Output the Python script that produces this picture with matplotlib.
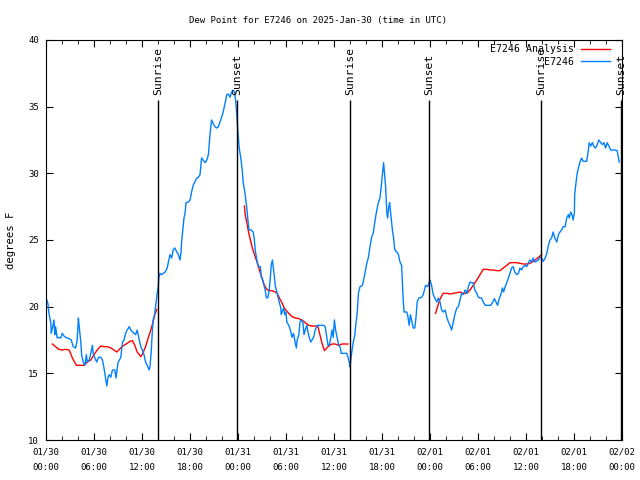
import numpy as np
import matplotlib
matplotlib.use("Agg")
import matplotlib.pyplot as plt
import matplotlib.dates as mdates
from matplotlib.ticker import MultipleLocator

plt.rcParams['font.family'] = ['DejaVu Sans Mono']

# ---- data (hours since 2025-01-30 00:00 UTC, dew point in deg F) ----
obs_hours = [0.125, 0.25, 0.375, 0.6, 0.65, 0.8, 1.0, 1.1, 1.2, 1.4, 1.6, 1.85, 2.05, 2.25, 2.45, 2.9, 3.15, 3.4, 3.7, 3.9,
             4.05, 4.15, 4.35, 4.45, 4.65, 4.85, 5.05, 5.15, 5.4, 5.6, 5.8, 5.9, 6.1, 6.35, 6.55, 6.85, 7.05, 7.25, 7.45, 7.6,
             7.75, 7.9, 8.1, 8.3, 8.6, 8.75, 9.0, 9.35, 9.55, 9.75, 9.95, 10.15, 10.4, 10.6, 10.8, 11.0, 11.2, 11.4, 11.6, 11.85,
             12.05, 12.25, 12.45, 12.65, 12.9, 13.0, 13.15, 13.3, 13.4, 13.6, 13.75, 13.9, 14.05, 14.1, 14.25, 14.45, 14.65, 14.9, 15.15, 15.3,
             15.5, 15.7, 15.9, 16.1, 16.35, 16.55, 16.75, 16.9, 16.95, 17.1, 17.25, 17.4, 17.5, 17.8, 18.0, 18.2, 18.4, 18.6, 18.85, 19.05,
             19.25, 19.45, 19.65, 19.9, 20.1, 20.3, 20.5, 20.7, 20.9, 21.1, 21.35, 21.55, 21.75, 21.95, 22.15, 22.4, 22.6, 22.8, 23.0, 23.2,
             23.4, 23.55, 23.7, 23.85, 23.95, 24.05, 24.15, 24.35, 24.5, 24.65, 24.9, 25.1, 25.3, 25.4, 25.65, 25.9, 26.05, 26.15, 26.4, 26.6,
             26.8, 26.9, 27.1, 27.25, 27.4, 27.55, 27.75, 27.9, 28.05, 28.15, 28.3, 28.4, 28.55, 28.65, 28.85, 29.0, 29.15, 29.35, 29.4, 29.6,
             29.7, 29.85, 30.0, 30.1, 30.35, 30.55, 30.75, 30.95, 31.15, 31.3, 31.4, 31.6, 31.75, 31.9, 32.1, 32.25, 32.4, 32.6, 32.75, 32.9,
             33.1, 33.25, 33.45, 33.65, 33.9, 34.3, 34.7, 34.9, 35.1, 35.25, 35.4, 35.6, 35.75, 35.9, 36.05, 36.2, 36.4, 36.6, 36.8, 36.9,
             37.2, 37.6, 37.85, 37.9, 38.0, 38.2, 38.4, 38.6, 38.75, 38.9, 39.05, 39.25, 39.55, 39.65, 39.9, 40.1, 40.3, 40.5, 40.7, 40.9,
             41.1, 41.35, 41.55, 41.75, 41.95, 42.1, 42.2, 42.35, 42.45, 42.6, 42.7, 42.85, 42.95, 43.1, 43.3, 43.45, 43.6, 43.85, 44.05, 44.25,
             44.45, 44.65, 44.75, 45.1, 45.2, 45.4, 45.55, 45.7, 45.9, 46.1, 46.25, 46.4, 46.6, 46.95, 47.15, 47.3, 47.45, 47.7, 47.9, 48.0,
             48.2, 48.4, 48.6, 48.85, 49.05, 49.25, 49.45, 49.65, 49.9, 50.1, 50.3, 50.5, 50.7, 50.9, 51.1, 51.35, 51.55, 51.75, 51.95, 52.15,
             52.4, 52.6, 52.8, 53.0, 53.2, 53.4, 53.6, 53.85, 54.05, 54.25, 54.45, 54.65, 54.9, 55.3, 55.6, 55.85, 56.05, 56.25, 56.45, 56.6,
             56.9, 57.05, 57.2, 57.4, 57.6, 57.8, 58.0, 58.2, 58.4, 58.6, 58.85, 59.05, 59.25, 59.45, 59.65, 59.9, 60.1, 60.3, 60.5, 60.7,
             60.9, 61.1, 61.55, 61.75, 61.95, 62.15, 62.4, 62.6, 62.8, 63.0, 63.2, 63.4, 63.6, 63.85, 64.05, 64.25, 64.45, 64.65, 64.9, 65.1,
             65.3, 65.4, 65.6, 65.75, 65.9, 66.05, 66.1, 66.25, 66.4, 66.55, 66.75, 66.95, 67.15, 67.6, 67.8, 67.9, 68.1, 68.3, 68.5, 68.7,
             68.9, 69.1, 69.35, 69.55, 69.75, 69.95, 70.15, 70.4, 70.6, 71.1, 71.4, 71.55, 71.65]
obs_dewpt = [20.5, 20.2, 19.5, 18.8, 18.0, 18.4, 19.0, 17.9, 18.5, 17.65, 17.7, 17.65, 18.0, 17.8, 17.7, 17.6, 17.5, 17.0, 16.9, 17.5,
             19.15, 18.5, 17.35, 16.4, 15.85, 15.6, 16.4, 15.85, 16.0, 16.5, 17.1, 16.5, 16.15, 15.85, 16.2, 16.2, 16.0, 15.4, 14.65, 14.05,
             14.7, 14.9, 14.7, 15.25, 15.25, 14.65, 15.8, 16.2, 17.3, 17.5, 18.0, 18.25, 18.5, 18.25, 18.1, 18.0, 17.9, 18.25, 17.65, 17.0,
             16.75, 16.4, 15.85, 15.6, 15.25, 15.5, 16.6, 18.25, 19.0, 19.5, 20.3, 21.0, 21.6, 22.2, 22.5, 22.4, 22.5, 22.6, 22.9, 23.35,
             23.9, 23.65, 24.25, 24.4, 24.1, 23.9, 23.5, 24.1, 24.85, 25.75, 26.65, 27.1, 27.8, 27.85, 28.0, 28.6, 29.1, 29.35, 29.65, 29.7,
             29.9, 31.15, 31.0, 30.8, 31.0, 31.4, 32.9, 34.0, 33.75, 33.5, 33.4, 33.5, 33.85, 34.2, 34.6, 35.3, 35.9, 35.95, 35.7, 36.1,
             36.25, 36.1, 35.5, 34.4, 33.4, 32.65, 31.9, 31.15, 30.4, 29.35, 28.4, 27.4, 26.1, 25.75, 25.75, 25.6, 25.0, 24.25, 23.35, 23.0,
             23.0, 22.25, 22.0, 21.6, 21.25, 20.65, 20.7, 21.25, 22.25, 23.1, 23.5, 23.0, 22.25, 21.6, 21.1, 20.7, 20.35, 19.9, 19.4, 19.75,
             19.9, 19.4, 19.6, 18.85, 18.6, 18.25, 17.7, 18.0, 17.3, 16.9, 17.5, 17.9, 18.85, 19.0, 18.85, 17.9, 18.25, 18.6, 18.1, 17.7,
             17.35, 17.5, 17.7, 18.25, 18.6, 18.6, 18.6, 18.5, 17.7, 17.1, 17.1, 17.65, 18.25, 17.7, 19.0, 18.25, 17.65, 17.1, 16.9, 16.5,
             16.5, 16.5, 16.0, 15.85, 15.5, 16.5, 17.3, 17.9, 18.8, 19.5, 21.0, 21.5, 21.6, 21.85, 22.6, 23.25, 23.7, 24.5, 25.2, 25.5,
             26.35, 27.25, 27.8, 28.15, 29.3, 30.25, 30.8, 29.7, 29.0, 27.1, 26.65, 27.5, 27.8, 26.9, 25.75, 25.15, 24.25, 24.1, 23.9, 23.35,
             23.1, 20.5, 19.6, 19.6, 19.4, 18.6, 19.4, 19.0, 18.4, 18.4, 19.2, 20.35, 20.65, 20.7, 20.9, 21.25, 21.6, 21.5, 21.85, 22.0,
             21.6, 20.9, 20.65, 20.35, 20.65, 20.35, 19.75, 19.6, 19.75, 19.2, 18.85, 18.6, 18.25, 18.8, 19.4, 19.9, 20.0, 20.5, 21.0, 20.9,
             21.25, 21.0, 21.5, 21.85, 21.8, 21.8, 21.25, 21.0, 20.7, 20.65, 20.65, 20.35, 20.1, 20.1, 20.1, 20.35, 20.6, 20.35, 20.1, 20.5,
             21.0, 21.4, 21.1, 21.5, 21.8, 22.15, 22.5, 22.9, 23.0, 22.6, 22.4, 22.5, 22.9, 22.75, 23.0, 23.1, 23.0, 23.3, 23.5, 23.35,
             23.65, 23.35, 23.5, 23.7, 23.65, 23.4, 23.65, 24.0, 24.6, 25.0, 25.15, 25.6, 25.15, 24.85, 25.4, 25.6, 25.75, 26.0, 26.0, 26.65,
             26.9, 26.65, 27.1, 26.9, 26.5, 27.1, 28.4, 29.3, 30.0, 30.4, 30.85, 31.15, 30.9, 30.9, 31.75, 32.3, 32.05, 32.3, 32.0, 31.9,
             32.15, 32.5, 32.3, 32.15, 32.3, 31.9, 32.3, 32.0, 31.75, 31.75, 31.7, 31.2, 30.85]

ana_hours = [0.8, 1.2, 1.6, 2.05, 2.45, 2.9, 3.3, 3.8, 4.35, 4.75, 5.15, 5.6, 6.0, 6.4, 6.85, 7.25, 7.65, 8.1, 8.5, 8.85,
             9.1, 9.4, 9.75, 10.15, 10.5, 10.8, 11.1, 11.4, 11.85, 12.1, 12.45, 12.75, 13.1, 13.4, 13.6, 13.85, np.nan,
             24.8, 24.9, 25.1, 25.35, 25.55, 25.75, 25.95, 26.15, 26.4, 26.6, 26.8, 27.0, 27.2, 27.4, 27.6, 27.85, 28.25, 28.65, 28.9, 29.1,
             29.3, 29.5, 29.7, 29.9, 30.35, 30.75, 31.15, 31.6, 32.0, 32.4, 32.85, 33.25, 33.65, 34.0, 34.2, 34.5, 34.8, 35.1, 35.45, 35.75,
             36.15, 36.6, 37.0, 37.4, 37.75, np.nan,
             48.7, 48.95, 49.2, 49.45, 49.65, 50.1, 50.5, 50.9, 51.35, 51.75, 52.15, 52.6, 53.0, 53.4, 53.85, 54.25, 54.65, 55.1, 55.5, 55.9,
             56.35, 56.75, 57.15, 57.6, 58.0, 58.4, 58.85, 59.25, 59.65, 60.1, 60.5, 60.9, 61.35, 61.75, 61.95]
ana_dewpt = [17.2, 17.0, 16.8, 16.75, 16.8, 16.75, 16.15, 15.6, 15.6, 15.6, 15.85, 16.0, 16.4, 16.75, 17.05, 17.0, 17.0, 16.9, 16.75, 16.6,
             16.75, 16.95, 17.1, 17.25, 17.4, 17.45, 17.1, 16.6, 16.25, 16.5, 17.0, 17.6, 18.25, 18.9, 19.4, 19.8, np.nan,
             27.55, 26.9, 26.3, 25.5, 25.0, 24.5, 24.1, 23.75, 23.3, 22.9, 22.5, 22.15, 21.75, 21.5, 21.3, 21.2, 21.2, 21.1, 21.0, 20.75,
             20.5, 20.3, 20.0, 19.8, 19.5, 19.25, 19.15, 19.1, 19.0, 18.8, 18.6, 18.55, 18.55, 18.5, 18.0, 17.25, 16.7, 16.9, 17.1, 17.2,
             17.2, 17.1, 17.2, 17.2, 17.2, np.nan,
             19.5, 20.0, 20.5, 20.8, 21.0, 21.0, 20.95, 21.0, 21.05, 21.1, 21.0, 21.0, 21.25, 21.6, 22.0, 22.4, 22.8, 22.8, 22.75, 22.75,
             22.7, 22.7, 22.9, 23.1, 23.3, 23.3, 23.3, 23.25, 23.2, 23.2, 23.25, 23.4, 23.6, 23.8, 23.9]

sun_hours = [14.0, 23.85, 38.0, 47.9, 61.85, 71.9]
sun_labels = ["Sunrise", "Sunset", "Sunrise", "Sunset", "Sunrise", "Sunset"]

base = np.datetime64('2025-01-30T00:00')


def to_time(hours):
    h = np.asarray(hours, dtype=float)
    out = base + (np.nan_to_num(h) * 60).astype('timedelta64[m]')
    return np.array(out.astype('datetime64[m]').astype(object), dtype=object)


obs_t = to_time(obs_hours)
ana_t = to_time(ana_hours)
sun_t = to_time(sun_hours)

FS = 6.5

fig = plt.figure(figsize=(6.4, 4.8), dpi=100)
ax = fig.add_axes([46/640, 40/480, 576/640, 400/480])

ax.plot(ana_t, ana_dewpt, color='#ff0000', lw=1.0, label='E7246 Analysis')
ax.plot(obs_t, obs_dewpt, color='#0080ff', lw=1.0, label='E7246')

ax.vlines(sun_t, 10, 35.5, color='black', lw=1.0)
for t, lab in zip(sun_t, sun_labels):
    ax.text(t, 35.9, lab, rotation=90, ha='center', va='bottom', fontsize=8.2)

ax.set_xlim(base.astype(object), (base + np.timedelta64(72, 'h')).astype(object))
ax.set_ylim(10, 40)
ax.xaxis.set_major_locator(mdates.HourLocator(byhour=range(0, 24, 6)))
ax.xaxis.set_minor_locator(mdates.HourLocator(byhour=range(0, 24, 2)))
ax.xaxis.set_major_formatter(mdates.DateFormatter('%m/%d\n%H:%M'))
ax.yaxis.set_major_locator(MultipleLocator(5))
ax.tick_params(axis='both', which='both', direction='in', top=True, right=True, labelsize=FS)
ax.tick_params(which='major', length=5)
ax.tick_params(which='minor', length=3)
ax.tick_params(axis='x', pad=5.5)
ax.tick_params(axis='y', pad=5)
for lbl in ax.get_xticklabels():
    lbl.set_linespacing(1.85)

ax.set_ylabel('degrees F', fontsize=7.6)
ax.yaxis.set_label_coords(-0.052, 0.5)
fig.text(318/640, 1 - 20/480, 'Dew Point for E7246 on 2025-Jan-30 (time in UTC)',
         ha='center', va='center', fontsize=FS)

leg = ax.legend(loc='upper right', bbox_to_anchor=((612 - 46) / 576, (440 - 42) / 400),
                frameon=False, markerfirst=False, fontsize=7.1,
                handlelength=2.95, handletextpad=0.7, labelspacing=0.3, borderaxespad=0.0,
                borderpad=0.2)

fig.savefig('out.png', dpi=100)
